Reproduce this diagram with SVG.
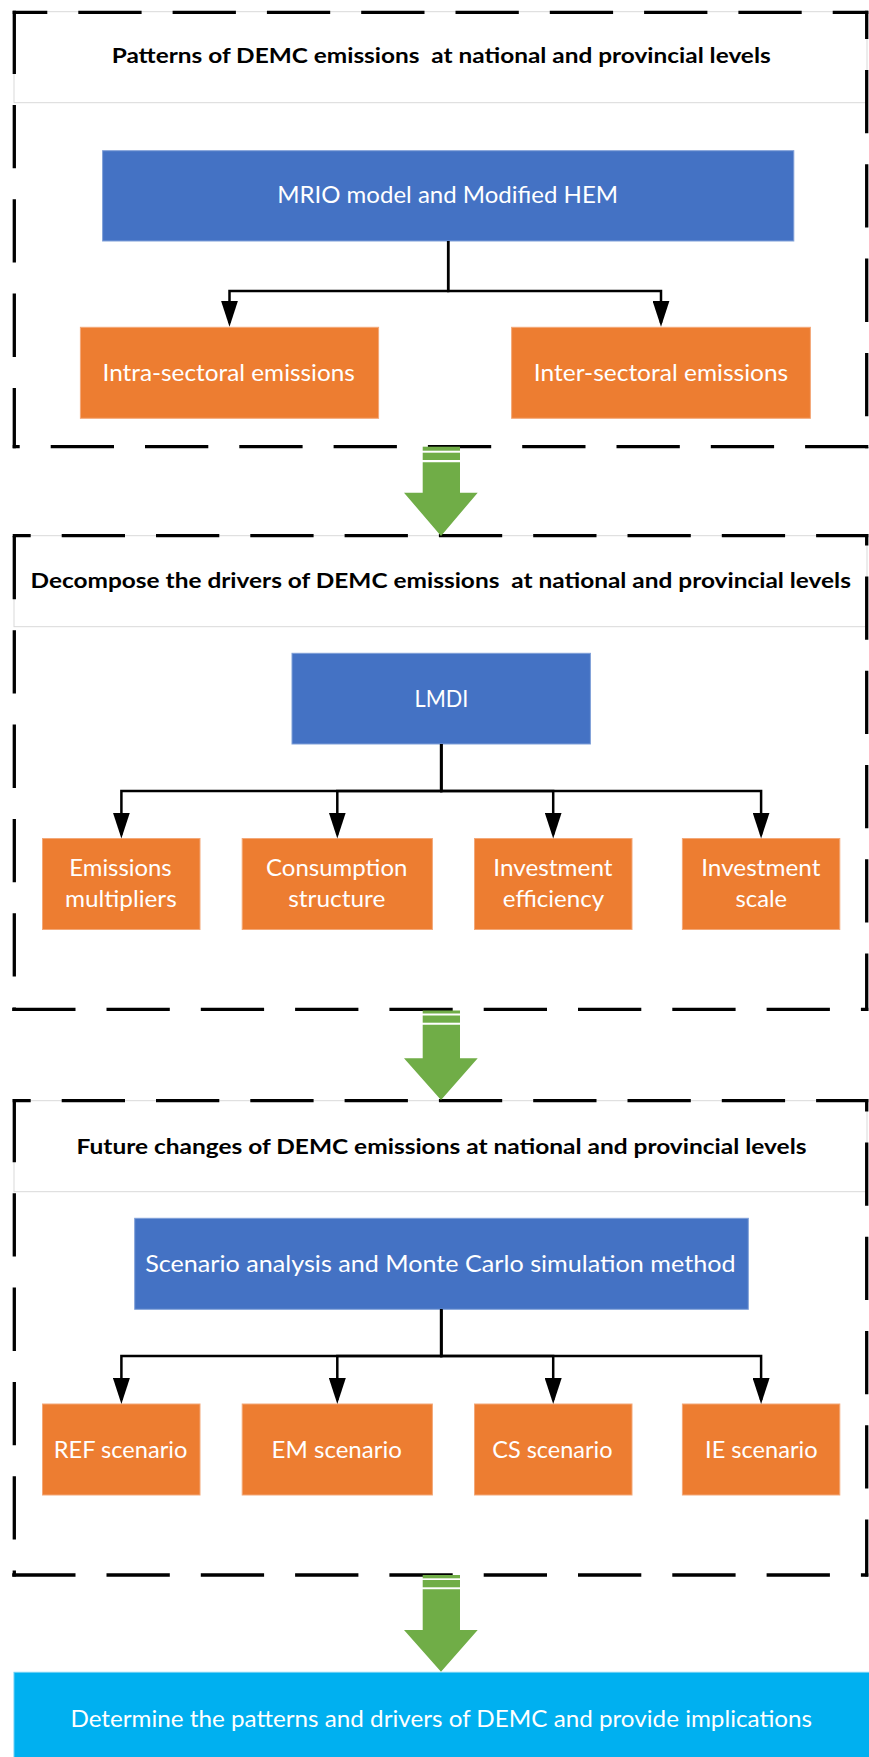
<svg xmlns="http://www.w3.org/2000/svg" width="869" height="1757" viewBox="0 0 869 1757">
<style>
.title{fill:#ffffff;stroke:#d9d9d9;stroke-width:1}
.tt{font-family:Lato,"Open Sans",sans-serif;font-weight:bold;font-size:21px;fill:#000000;white-space:pre}
.blue{fill:#4472C4;stroke:#7f9fd8;stroke-width:1}
.orange{fill:#ED7D31;stroke:#f3a878;stroke-width:1}
.cyan{fill:#00B0F0;stroke:#6dd0f5;stroke-width:1}
.wt{font-family:Lato,"Open Sans",sans-serif;font-size:23.5px;fill:#ffffff}
.dash{stroke:#000000;stroke-width:3.3;stroke-dasharray:63.3 31;fill:none}
.conn{stroke:#000000;stroke-width:2.5;fill:none}
.green{fill:#70AD47}
</style>
<defs>
<marker id="ah" viewBox="0 0 26 17" refX="22" refY="8.5" markerWidth="26" markerHeight="17" orient="auto" markerUnits="userSpaceOnUse">
<path d="M0,0 L26,8.5 L0,17 Z" fill="#000000"/>
</marker>
</defs>
<rect x="0" y="0" width="869" height="1757" fill="#ffffff"/>

<!-- Stage 1 -->
<g id="title1">
<rect class="title" x="14" y="11.7" width="853" height="91"/>
<text class="tt" x="111.7" y="62.7" textLength="659" lengthAdjust="spacingAndGlyphs">Patterns of DEMC emissions  at national and provincial levels</text>
</g>
<g id="frame1">
<line class="dash" x1="12.7" y1="12.3" x2="868.3" y2="12.3" stroke-dashoffset="28.7"/>
<line class="dash" x1="14.3" y1="10.7" x2="14.3" y2="448.3" stroke-dashoffset="0"/>
<line class="dash" x1="12.7" y1="446.7" x2="868.3" y2="446.7" stroke-dashoffset="56.3"/>
<line class="dash" x1="866.7" y1="10.7" x2="866.7" y2="448.3" stroke-dashoffset="35"/>
</g>
<g id="mrio">
<rect class="blue" x="102.6" y="150.7" width="691.2" height="90.3"/>
<text class="wt" x="277.2" y="202.7" textLength="340.9" lengthAdjust="spacingAndGlyphs">MRIO model and Modified HEM</text>
</g>
<g id="intra">
<rect class="orange" x="80.4" y="327.3" width="298.2" height="91"/>
<text class="wt" x="102.5" y="380.7" textLength="252.3" lengthAdjust="spacingAndGlyphs">Intra-sectoral emissions</text>
</g>
<g id="inter">
<rect class="orange" x="511.6" y="327.3" width="298.8" height="91"/>
<text class="wt" x="533.8" y="380.7" textLength="254.4" lengthAdjust="spacingAndGlyphs">Inter-sectoral emissions</text>
</g>

<!-- Stage 2 -->
<g id="title2">
<rect class="title" x="14" y="535.7" width="853" height="91"/>
<text class="tt" x="30.5" y="588.3" textLength="820.4" lengthAdjust="spacingAndGlyphs">Decompose the drivers of DEMC emissions  at national and provincial levels</text>
</g>
<g id="frame2">
<line class="dash" x1="12.7" y1="535.7" x2="868.3" y2="535.7" stroke-dashoffset="45.3"/>
<line class="dash" x1="14.3" y1="536" x2="14.3" y2="1011" stroke-dashoffset="0"/>
<line class="dash" x1="12.2" y1="1009.3" x2="868.3" y2="1009.3" stroke-dashoffset="0"/>
<line class="dash" x1="866.7" y1="534" x2="866.7" y2="1011" stroke-dashoffset="51.9"/>
</g>
<g id="lmdi">
<rect class="blue" x="292" y="653.3" width="298.4" height="90.7"/>
<text class="wt" x="414.6" y="706.7" textLength="53.8" lengthAdjust="spacingAndGlyphs">LMDI</text>
</g>
<g id="em-mult">
<rect class="orange" x="42.5" y="838.5" width="157.5" height="91"/>
<text class="wt" x="69.3" y="876" textLength="102.4" lengthAdjust="spacingAndGlyphs">Emissions</text>
<text class="wt" x="65" y="906.5" textLength="111.7" lengthAdjust="spacingAndGlyphs">multipliers</text>
</g>
<g id="cons-struct">
<rect class="orange" x="242.2" y="838.5" width="190.2" height="91"/>
<text class="wt" x="266.1" y="876" textLength="141.3" lengthAdjust="spacingAndGlyphs">Consumption</text>
<text class="wt" x="288.2" y="906.5" textLength="97.1" lengthAdjust="spacingAndGlyphs">structure</text>
</g>
<g id="inv-eff">
<rect class="orange" x="474.5" y="838.5" width="157.5" height="91"/>
<text class="wt" x="493.3" y="876" textLength="119.2" lengthAdjust="spacingAndGlyphs">Investment</text>
<text class="wt" x="502.8" y="906.5" textLength="101.4" lengthAdjust="spacingAndGlyphs">efficiency</text>
</g>
<g id="inv-scale">
<rect class="orange" x="682.4" y="838.5" width="157.4" height="91"/>
<text class="wt" x="701.2" y="876" textLength="119.2" lengthAdjust="spacingAndGlyphs">Investment</text>
<text class="wt" x="735.6" y="906.5" textLength="51.5" lengthAdjust="spacingAndGlyphs">scale</text>
</g>

<!-- Stage 3 -->
<g id="title3">
<rect class="title" x="14" y="1100.7" width="853" height="91"/>
<text class="tt" x="76.5" y="1154.3" textLength="730" lengthAdjust="spacingAndGlyphs">Future changes of DEMC emissions at national and provincial levels</text>
</g>
<g id="frame3">
<line class="dash" x1="12.7" y1="1100.7" x2="868.3" y2="1100.7" stroke-dashoffset="45.3"/>
<line class="dash" x1="14.3" y1="1099" x2="14.3" y2="1576.6" stroke-dashoffset="0"/>
<line class="dash" x1="12.2" y1="1575" x2="868.3" y2="1575" stroke-dashoffset="0"/>
<line class="dash" x1="866.7" y1="1099" x2="866.7" y2="1576.6" stroke-dashoffset="50.9"/>
</g>
<g id="scenario">
<rect class="blue" x="134.7" y="1218.3" width="613.6" height="91"/>
<text class="wt" x="145.2" y="1271.7" textLength="590.4" lengthAdjust="spacingAndGlyphs">Scenario analysis and Monte Carlo simulation method</text>
</g>
<g id="ref">
<rect class="orange" x="42.5" y="1404" width="157.5" height="91"/>
<text class="wt" x="53.8" y="1458.3" textLength="133.6" lengthAdjust="spacingAndGlyphs">REF scenario</text>
</g>
<g id="em">
<rect class="orange" x="242.2" y="1404" width="190.2" height="91"/>
<text class="wt" x="271.6" y="1458.3" textLength="130.3" lengthAdjust="spacingAndGlyphs">EM scenario</text>
</g>
<g id="cs">
<rect class="orange" x="474.5" y="1404" width="157.5" height="91"/>
<text class="wt" x="492.2" y="1458.3" textLength="120.3" lengthAdjust="spacingAndGlyphs">CS scenario</text>
</g>
<g id="ie">
<rect class="orange" x="682.4" y="1404" width="157.4" height="91"/>
<text class="wt" x="705.1" y="1458.3" textLength="112.5" lengthAdjust="spacingAndGlyphs">IE scenario</text>
</g>

<!-- Result -->
<g id="result">
<rect class="cyan" x="14" y="1672.3" width="860" height="90"/>
<text class="wt" x="70.4" y="1726.7" textLength="741.7" lengthAdjust="spacingAndGlyphs">Determine the patterns and drivers of DEMC and provide implications</text>
</g>

<!-- Connectors -->
<g id="connectors">
<path class="conn" d="M448.2,241 V291 H229.5 V322.7" marker-end="url(#ah)"/>
<path class="conn" d="M448.2,241 V291 H661 V322.7" marker-end="url(#ah)"/>
<path class="conn" d="M441.2,744 V791 H121.4 V834.5" marker-end="url(#ah)"/>
<path class="conn" d="M441.2,744 V791 H337.3 V834.5" marker-end="url(#ah)"/>
<path class="conn" d="M441.2,744 V791 H553.2 V834.5" marker-end="url(#ah)"/>
<path class="conn" d="M441.2,744 V791 H761.1 V834.5" marker-end="url(#ah)"/>
<path class="conn" d="M441.2,1309.3 V1356 H121.4 V1400" marker-end="url(#ah)"/>
<path class="conn" d="M441.2,1309.3 V1356 H337.3 V1400" marker-end="url(#ah)"/>
<path class="conn" d="M441.2,1309.3 V1356 H553.2 V1400" marker-end="url(#ah)"/>
<path class="conn" d="M441.2,1309.3 V1356 H761.1 V1400" marker-end="url(#ah)"/>
</g>

<!-- Green flow arrows -->
<g id="flow1" class="green">
<rect x="422.7" y="446.7" width="37.3" height="4"/>
<rect x="422.7" y="452.7" width="37.3" height="7.3"/>
<path d="M422.7,462.3 V492.7 H404 L441,536 L477.7,492.7 H460 V462.3 Z"/>
</g>
<g id="flow2" class="green">
<rect x="422.7" y="1010.5" width="37.3" height="3"/>
<rect x="422.7" y="1015.5" width="37.3" height="7.2"/>
<path d="M422.7,1024.7 V1058.3 H404 L441,1100 L477.7,1058.3 H460 V1024.7 Z"/>
</g>
<g id="flow3" class="green">
<rect x="422.7" y="1575" width="37.3" height="3.3"/>
<rect x="422.7" y="1580" width="37.3" height="7.3"/>
<path d="M422.7,1589.3 V1630 H404 L441,1671.7 L477.7,1630 H460 V1589.3 Z"/>
</g>
</svg>
